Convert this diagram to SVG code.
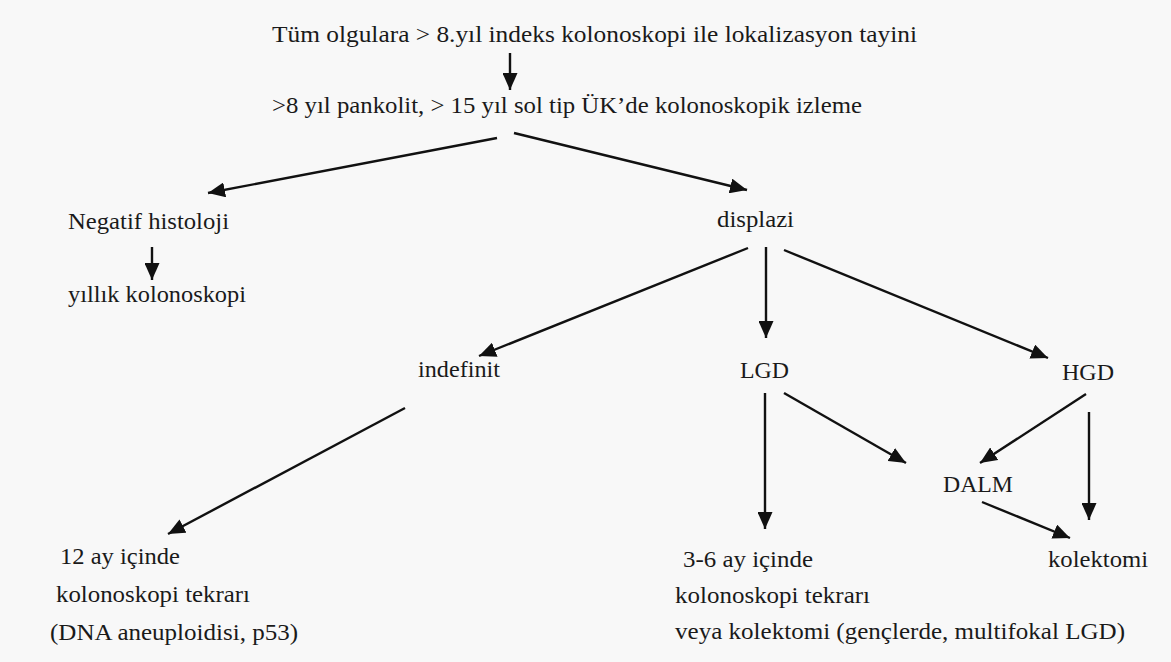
<svg xmlns="http://www.w3.org/2000/svg" width="1171" height="662" viewBox="0 0 1171 662" font-family="Liberation Serif, Times New Roman, DejaVu Serif, serif">
<defs>
<marker id="ah" markerUnits="userSpaceOnUse" markerWidth="17" markerHeight="15" refX="17" refY="7.5" orient="auto">
<path d="M0,0 L17,7.5 L0,15 z" fill="#111"/>
</marker>
<style>
.t{font-family:'Liberation Serif','Times New Roman','DejaVu Serif',serif;font-size:23px;fill:#1a1a1a;}
.c line{stroke:#111;stroke-width:2.4;marker-end:url(#ah);}
</style>
</defs>
<rect width="1171" height="662" fill="#f8f8f8"/>
<g class="t">
<g id="n-top"><text x="272" y="42" textLength="645" lengthAdjust="spacingAndGlyphs">Tüm olgulara &gt; 8.yıl  indeks kolonoskopi ile lokalizasyon tayini</text></g>
<g id="n-izleme"><text x="272" y="113" textLength="590" lengthAdjust="spacingAndGlyphs">&gt;8 yıl pankolit, &gt; 15 yıl sol tip ÜK’de kolonoskopik izleme</text></g>
<g id="n-negatif"><text x="68" y="229" textLength="161" lengthAdjust="spacingAndGlyphs">Negatif histoloji</text></g>
<g id="n-yillik"><text x="68" y="302" textLength="178" lengthAdjust="spacingAndGlyphs">yıllık kolonoskopi</text></g>
<g id="n-displazi"><text x="717" y="227" textLength="77" lengthAdjust="spacingAndGlyphs">displazi</text></g>
<g id="n-indefinit"><text x="418" y="377" textLength="82" lengthAdjust="spacingAndGlyphs">indefinit</text></g>
<g id="n-lgd"><text x="740" y="378" textLength="49" lengthAdjust="spacingAndGlyphs">LGD</text></g>
<g id="n-hgd"><text x="1062" y="380" textLength="52" lengthAdjust="spacingAndGlyphs">HGD</text></g>
<g id="n-dalm"><text x="943" y="492" textLength="70" lengthAdjust="spacingAndGlyphs">DALM</text></g>
<g id="n-kolektomi"><text x="1048" y="567" textLength="100" lengthAdjust="spacingAndGlyphs">kolektomi</text></g>
<g id="n-12ay"><text x="60" y="564" textLength="120" lengthAdjust="spacingAndGlyphs">12 ay içinde</text><text x="56" y="602" textLength="194" lengthAdjust="spacingAndGlyphs">kolonoskopi tekrarı</text><text x="50" y="640" textLength="248" lengthAdjust="spacingAndGlyphs">(DNA aneuploidisi, p53)</text></g>
<g id="n-36ay"><text x="683" y="567" textLength="130" lengthAdjust="spacingAndGlyphs">3-6 ay içinde</text><text x="675" y="603" textLength="195" lengthAdjust="spacingAndGlyphs">kolonoskopi tekrarı</text><text x="675" y="639" textLength="450" lengthAdjust="spacingAndGlyphs">veya kolektomi (gençlerde, multifokal LGD)</text></g>
</g>
<g id="connectors" class="c">
<line x1="510" y1="53" x2="510" y2="90"/>
<line x1="497" y1="138" x2="208" y2="193"/>
<line x1="514" y1="133" x2="747" y2="190"/>
<line x1="152" y1="247" x2="152" y2="280"/>
<line x1="748" y1="248" x2="479" y2="356"/>
<line x1="766" y1="247" x2="766" y2="338"/>
<line x1="784" y1="250" x2="1048" y2="358"/>
<line x1="405" y1="408" x2="168" y2="534"/>
<line x1="765" y1="393" x2="765" y2="529"/>
<line x1="784" y1="393" x2="906" y2="463"/>
<line x1="1086" y1="394" x2="980" y2="463"/>
<line x1="1089" y1="412" x2="1089" y2="520"/>
<line x1="982" y1="502" x2="1070" y2="538"/>
</g>
</svg>
